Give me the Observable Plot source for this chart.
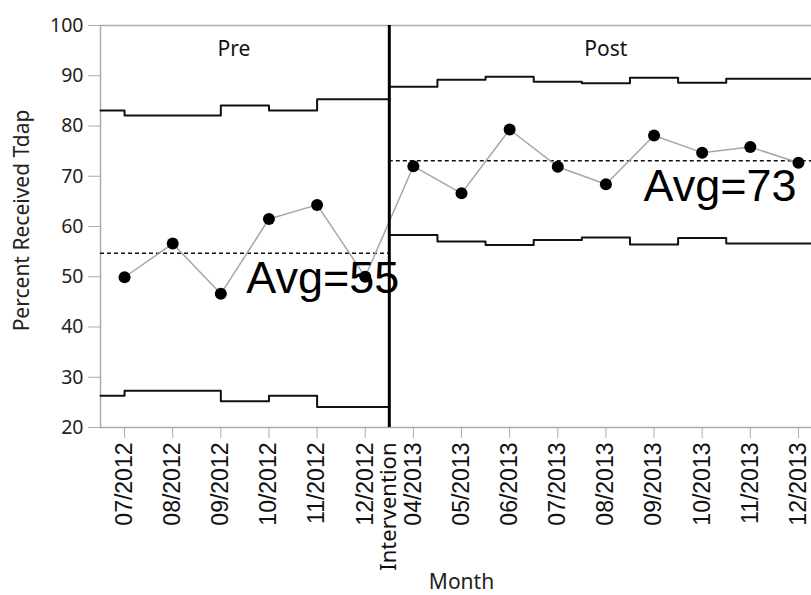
<!DOCTYPE html>
<html>
<head>
<meta charset="utf-8">
<script src="https://cdn.jsdelivr.net/npm/d3@7"></script>
<script src="https://cdn.jsdelivr.net/npm/@observablehq/plot@0.6"></script>
<style>
  html, body { margin: 0; padding: 0; background: #fff; overflow: hidden; }
  svg { overflow: hidden; }
</style>
</head>
<body>
<div id="chart"></div>
<script>
// ---- data ----
const preMonths = ["07/2012", "08/2012", "09/2012", "10/2012", "11/2012", "12/2012"];
const postMonths = ["04/2013", "05/2013", "06/2013", "07/2013", "08/2013", "09/2013", "10/2013", "11/2013", "12/2013"];
const interventionLabel = "Intervention";
const phaseLabels = ["Pre", "Post"];

const preValues = [49.9, 56.6, 46.6, 61.5, 64.3, 50.0];
const postValues = [72.0, 66.6, 79.3, 71.9, 68.4, 78.1, 74.7, 75.8, 72.7];

const preUCL = [83.1, 82.1, 82.1, 84.1, 83.1, 85.3];
const preLCL = [26.3, 27.3, 27.3, 25.2, 26.3, 24.1];
const postUCL = [87.8, 89.2, 89.8, 88.8, 88.5, 89.6, 88.6, 89.4, 89.4];
const postLCL = [58.3, 57.0, 56.3, 57.3, 57.8, 56.4, 57.7, 56.6, 56.6];

const preAvg = 54.7;
const postAvg = 73.1;

const yTicks = [20, 30, 40, 50, 60, 70, 80, 90, 100];
const xTitle = "Month";
const yTitle = "Percent Received Tdap";

// ---- derived tables ----
const months = [...preMonths, ...postMonths];
const nPre = preMonths.length;
const xMin = -0.5;
const xMax = months.length - 0.5;
const cut = nPre - 0.5;

const points = months.map((m, i) => ({
  month: m, x: i, y: i < nPre ? preValues[i] : postValues[i - nPre]
}));

function prePath(vals) {
  return [{x: xMin, v: vals[0]}, ...vals.map((v, i) => ({x: i, v})), {x: cut, v: vals[vals.length - 1]}];
}
function postPath(vals) {
  return [{x: cut, v: vals[0]}, ...vals.map((v, i) => ({x: nPre + i, v})), {x: xMax, v: vals[vals.length - 1]}];
}

const avgs = [
  {phase: phaseLabels[0], y: preAvg, x1: xMin, x2: cut},
  {phase: phaseLabels[1], y: postAvg, x1: cut, x2: xMax}
];

const uiFont = "'Noto Sans', 'Open Sans', sans-serif";
const axisGray = "#ababab";

const chart = Plot.plot({
  width: 811,
  height: 595,
  marginLeft: 100,
  marginRight: 0,
  marginTop: 25,
  marginBottom: 168,
  x: {domain: [xMin, xMax], range: [100, 822], axis: null},
  y: {domain: [20, 100], axis: null},
  style: {fontFamily: uiFont, background: "white", color: "#111"},
  marks: [
    // frame lines (top, left, bottom)
    Plot.ruleY([100], {stroke: axisGray, strokeWidth: 1.5}),
    Plot.ruleY([20], {stroke: axisGray, strokeWidth: 1.5}),
    Plot.ruleX([xMin], {stroke: axisGray, strokeWidth: 1.5}),
    // axes
    Plot.axisY({ticks: yTicks, tickSize: 12, tickPadding: 5, fontSize: 19.5, fontFamily: uiFont,
      stroke: axisGray, fill: "#222", label: null}),
    Plot.axisX({ticks: months.map((m, i) => i), tickFormat: i => months[i], tickRotate: -90,
      tickSize: 11, tickPadding: 4, fontSize: 23, fontFamily: "'Liberation Sans', Arial, sans-serif",
      stroke: axisGray, fill: "#111", label: null}),
    Plot.axisX({ticks: [cut], tickFormat: () => interventionLabel, tickRotate: -90,
      tickSize: 0, tickPadding: 15, fontSize: 22, fontFamily: uiFont, fill: "#111", label: null}),
    // control limits
    Plot.line(prePath(preUCL), {x: "x", y: "v", curve: "step-before", stroke: "#111", strokeWidth: 2}),
    Plot.line(prePath(preLCL), {x: "x", y: "v", curve: "step-before", stroke: "#111", strokeWidth: 2}),
    Plot.line(postPath(postUCL), {x: "x", y: "v", curve: "step", stroke: "#111", strokeWidth: 2}),
    Plot.line(postPath(postLCL), {x: "x", y: "v", curve: "step", stroke: "#111", strokeWidth: 2}),
    // averages
    Plot.ruleY(avgs, {y: "y", x1: "x1", x2: "x2", stroke: "#111", strokeWidth: 1.5, strokeDasharray: "4,3"}),
    // data
    Plot.line(points, {x: "x", y: "y", stroke: "#a6a6a6", strokeWidth: 1.5}),
    Plot.dot(points, {x: "x", y: "y", r: 6, fill: "#000"}),
    // phase labels
    Plot.text([phaseLabels[0]], {x: (xMin + cut) / 2, frameAnchor: "top", lineAnchor: "bottom",
      dy: 30, dx: -11, fontSize: 21, fill: "#111"}),
    Plot.text([phaseLabels[1]], {x: (cut + xMax) / 2, frameAnchor: "top", lineAnchor: "bottom",
      dy: 30, fontSize: 21, fill: "#111"}),
    // average labels
    Plot.text([avgs[0]], {x: "x2", y: "y", text: d => "Avg=" + Math.round(d.y), textAnchor: "end",
      lineAnchor: "bottom", dx: 10, dy: 40, fontSize: 45, fontFamily: "'Liberation Sans', Arial, sans-serif", fill: "#000"}),
    Plot.text([avgs[1]], {x: "x2", y: "y", text: d => "Avg=" + Math.round(d.y), textAnchor: "end",
      lineAnchor: "bottom", dx: -26, dy: 40, fontSize: 45, fontFamily: "'Liberation Sans', Arial, sans-serif", fill: "#000"}),
    // axis titles
    Plot.text([yTitle], {frameAnchor: "left", textAnchor: "middle", rotate: -90, dx: -78, dy: -6,
      fontSize: 21, fill: "#222"}),
    Plot.text([xTitle], {x: (xMin + xMax) / 2, frameAnchor: "bottom", lineAnchor: "bottom", dy: 161,
      fontSize: 21, fill: "#222"}),
    // intervention line
    Plot.ruleX([cut], {y1: 20, y2: 100, stroke: "#000", strokeWidth: 3})
  ]
});
document.getElementById("chart").appendChild(chart);
</script>
</body>
</html>
